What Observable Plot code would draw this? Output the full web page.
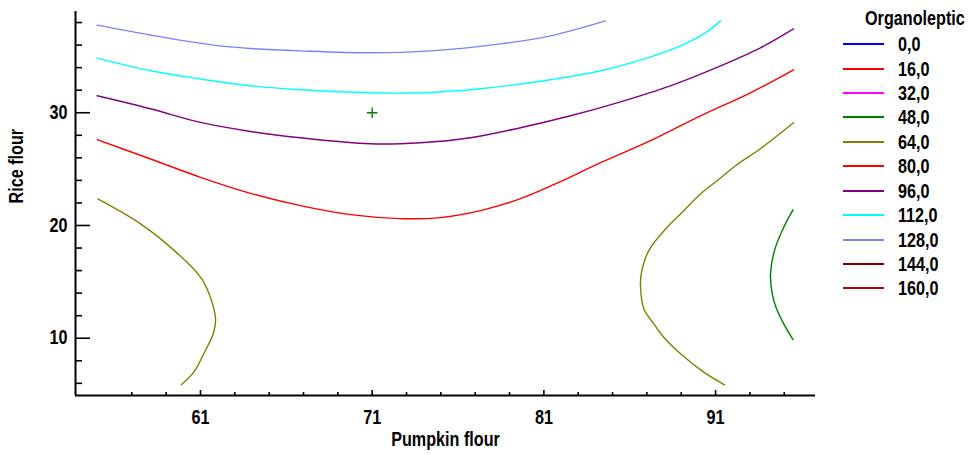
<!DOCTYPE html>
<html><head><meta charset="utf-8">
<script src="https://cdn.jsdelivr.net/npm/d3@7"></script>
<script src="https://cdn.jsdelivr.net/npm/@observablehq/plot@0.6"></script>
<style>
html,body{margin:0;padding:0;background:#fff;}
#wrap{position:relative;width:976px;height:455px;font-family:"Liberation Sans",Arial,sans-serif;font-weight:bold;color:#000;}
#wrap svg{position:absolute;left:0;top:0;}
.lg-title{position:absolute;left:865px;top:7px;font-size:19.5px;line-height:22px;white-space:nowrap;transform:scaleX(0.83);transform-origin:0 50%;}
.lg-row{position:absolute;left:843px;height:22px;width:130px;}
.lg-line{position:absolute;left:0;top:10px;width:41px;height:2px;}
.lg-text{position:absolute;left:55px;top:0;font-size:19.5px;line-height:22px;white-space:nowrap;transform:scaleX(0.83);transform-origin:0 50%;}
</style></head><body><div id="wrap"></div><script>
// Contour levels (legend)
const levels = [0, 16, 32, 48, 64, 80, 96, 112, 128, 144, 160];
const levelLabels = ["0,0", "16,0", "32,0", "48,0", "64,0", "80,0", "96,0", "112,0", "128,0", "144,0", "160,0"];
const levelColors = ["#0000ff", "#ff0000", "#ff00ff", "#008000", "#808000", "#ff0000", "#800080", "#00ffff", "#8080ff", "#800000", "#b00000"];

// Axis ticks
const xMajor = [61, 71, 81, 91];
const xMinor = [57, 59, 63, 65, 67, 69, 73, 75, 77, 79, 83, 85, 87, 89, 93, 95];
const yMajor = [10, 20, 30];
const yMinor = [6, 8, 12, 14, 16, 18, 22, 24, 26, 28, 32, 34, 36, 38];
const xDomain = [53.72, 96.82];
const yDomain = [4.92, 38.98];

// Contour lines: [Pumpkin flour, Rice flour]
const line128 = [[54.98,37.77],[58.09,36.89],[61.76,36.00],[63.91,35.70],[66.82,35.49],[70.90,35.32],[74.40,35.49],[78.47,36.11],[81.38,36.82],[84.59,38.15]];
const line112 = [[54.98,34.85],[58.09,33.72],[61.00,32.99],[63.91,32.39],[66.82,32.04],[70.90,31.77],[73.81,31.77],[77.31,32.13],[81.38,32.93],[84.30,33.72],[87.21,34.96],[88.96,35.94],[90.41,37.09],[91.29,38.15]];
const line96 = [[54.98,31.51],[58.09,30.35],[61.00,29.14],[63.91,28.34],[66.82,27.78],[70.90,27.25],[73.81,27.34],[76.73,27.78],[79.64,28.67],[82.55,29.73],[85.46,30.97],[88.37,32.39],[91.29,34.16],[93.61,35.76],[95.54,37.44]];
const line80 = [[54.98,27.61],[58.09,25.90],[61.00,24.27],[63.91,22.85],[66.82,21.76],[69.74,20.96],[72.65,20.61],[74.98,20.70],[77.31,21.32],[79.64,22.38],[81.97,23.89],[84.30,25.57],[87.21,27.52],[90.12,29.73],[93.03,31.77],[95.54,33.81]];
const line64a = [[55.02,22.35],[57.51,20.14],[59.54,17.68],[61.10,15.20],[61.87,11.86],[61.77,10.53],[61.19,8.62],[60.61,6.99],[59.88,5.87]];
const line64b = [[95.54,29.11],[93.61,26.81],[92.16,25.30],[91.09,23.97],[90.12,22.80],[88.96,21.02],[88.18,19.84],[87.11,17.77],[86.67,15.71],[86.63,14.52],[86.82,12.61],[87.40,11.28],[87.98,10.09],[88.96,8.62],[90.31,6.99],[91.52,5.87]];
const line48 = [[95.51,21.38],[94.97,19.84],[94.43,17.77],[94.20,15.71],[94.30,13.93],[94.55,12.61],[94.97,11.28],[95.51,9.88]];
const centerPoint = [71, 30];

const contours = [
  {id: "128", level: 128, pts: line128},
  {id: "112", level: 112, pts: line112},
  {id: "96", level: 96, pts: line96},
  {id: "80", level: 80, pts: line80},
  {id: "64a", level: 64, pts: line64a},
  {id: "64b", level: 64, pts: line64b},
  {id: "48", level: 48, pts: line48}
];
const rows = contours.flatMap(c => c.pts.map(([x, y]) => ({x, y, id: c.id, level: c.level})));

const W = 976, H = 455, mL = 75, mR = 161, mT = 11, mB = 60;
const plotW = W - mL - mR, plotH = H - mT - mB;
const FS = 19.5, SX = 0.83;

const chart = Plot.plot({
  width: W, height: H,
  marginLeft: mL, marginRight: mR, marginTop: mT, marginBottom: mB,
  x: {domain: xDomain},
  y: {domain: yDomain},
  color: {type: "ordinal", domain: levels, range: levelColors},
  style: {fontFamily: "Liberation Sans, Arial, sans-serif", fontSize: FS + "px", fontWeight: "bold", color: "#000", background: "transparent", overflow: "visible"},
  marks: [
    Plot.line(rows, {x: "x", y: "y", z: "id", stroke: "level", strokeWidth: 1.4, curve: "catmull-rom"}),
    Plot.dot([centerPoint], {x: d => d[0], y: d => d[1], symbol: "plus", r: 3.5, stroke: "#008000", strokeWidth: 1.4}),
    Plot.tickY(yMajor, {y: d => d, stroke: "#000", strokeWidth: 1.6, insetRight: plotW - 15}),
    Plot.tickY(yMinor, {y: d => d, stroke: "#000", strokeWidth: 1.6, insetRight: plotW - 7}),
    Plot.tickX(xMajor, {x: d => d, stroke: "#000", strokeWidth: 1.6, insetTop: plotH - 5}),
    Plot.tickX(xMinor, {x: d => d, stroke: "#000", strokeWidth: 1.6, insetTop: plotH - 3}),
    Plot.ruleX([xDomain[0]], {stroke: "#000", strokeWidth: 2}),
    Plot.ruleY([yDomain[0]], {stroke: "#000", strokeWidth: 2}),
    Plot.axisX({ticks: xMajor, tickSize: 0, tickPadding: 15, label: null, fontSize: FS}),
    Plot.axisY({ticks: yMajor, tickSize: 0, tickPadding: 8, label: null, fontSize: FS}),
    Plot.text(["Pumpkin flour"], {text: d => d, frameAnchor: "bottom", dy: 50, fontSize: FS, fontWeight: "bold"}),
    Plot.text(["Rice flour"], {text: d => d, frameAnchor: "left", rotate: -90, dx: -58.7, fontSize: FS, fontWeight: "bold"})
  ]
});

// Emulate a narrow bold face: squeeze each text horizontally around its anchor
d3.select(chart).selectAll("text").each(function () {
  const ax = +(this.getAttribute("x") || 0);
  const t = this.getAttribute("transform") || "";
  this.setAttribute("transform", `${t} translate(${ax},0) scale(${SX},1) translate(${-ax},0)`);
});

const wrap = document.getElementById("wrap");
wrap.appendChild(chart);

// Legend (HTML, to the right of the plot frame)
const title = document.createElement("div");
title.className = "lg-title";
title.textContent = "Organoleptic";
wrap.appendChild(title);
levels.forEach((lv, i) => {
  const row = document.createElement("div");
  row.className = "lg-row";
  row.style.top = Math.round(44.3 + i * 24.4 - 11) + "px";
  const ln = document.createElement("div");
  ln.className = "lg-line";
  ln.style.background = levelColors[i];
  const tx = document.createElement("div");
  tx.className = "lg-text";
  tx.textContent = levelLabels[i];
  row.appendChild(ln);
  row.appendChild(tx);
  wrap.appendChild(row);
});
</script></body></html>
